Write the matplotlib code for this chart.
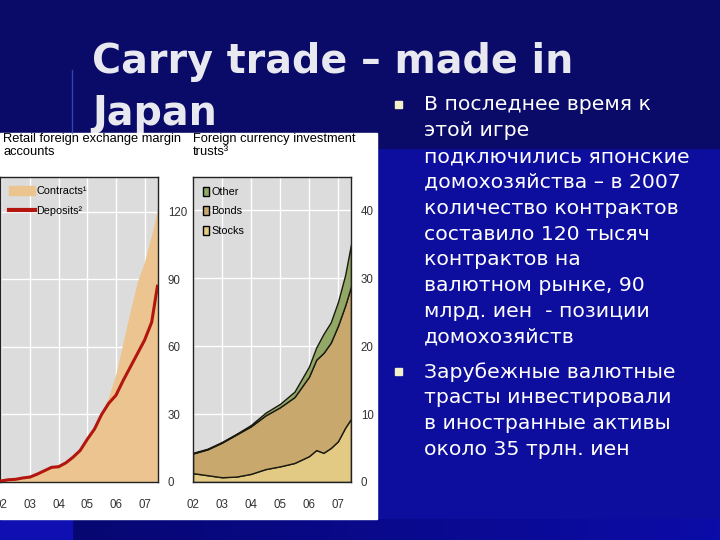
import numpy as np
import matplotlib.pyplot as plt
from matplotlib.colors import LinearSegmentedColormap
from matplotlib.patches import Rectangle, Patch
from matplotlib.lines import Line2D

# left chart: retail FX margin accounts (quarterly readings)
t_acc = [2002.0, 2002.25, 2002.5, 2002.75, 2003.0, 2003.25, 2003.5, 2003.75,
         2004.0, 2004.25, 2004.5, 2004.75, 2005.0, 2005.25, 2005.5, 2005.75,
         2006.0, 2006.25, 2006.5, 2006.75, 2007.0, 2007.25, 2007.45]
contracts = [0.8, 1.2, 1.6, 2.2, 2.8, 3.8, 5.2, 6.8, 7.8, 9.5, 12.0, 15.0, 20.0,
             25.0, 31.0, 38.0, 48.0, 62.0, 76.0, 89.0, 98.0, 110.0, 121.0]
deposits = [0.5, 1.0, 1.2, 1.8, 2.2, 3.5, 5.0, 6.5, 6.8, 8.5, 11.0, 14.0, 19.0,
            23.5, 30.0, 35.0, 38.5, 45.0, 51.0, 57.0, 63.0, 71.0, 87.0]

# right chart: foreign currency investment trusts
t_inv = [2002.0, 2002.5, 2003.0, 2003.5, 2004.0, 2004.5, 2005.0, 2005.5,
         2006.0, 2006.25, 2006.5, 2006.75, 2007.0, 2007.25, 2007.45]
stocks = [1.3, 1.0, 0.7, 0.8, 1.2, 1.9, 2.3, 2.8, 3.8, 4.7, 4.3, 5.0, 6.0, 8.0, 9.3]
bonds = [2.9, 3.8, 5.1, 6.2, 7.0, 7.9, 8.7, 9.7, 11.7, 13.3, 14.7, 15.5, 17.0, 18.0, 19.5]
other = [0.1, 0.1, 0.1, 0.1, 0.2, 0.4, 0.5, 0.8, 1.5, 1.8, 2.8, 3.0, 3.5, 4.5, 6.2]

years = [2002, 2003, 2004, 2005, 2006, 2007]
year_labels = ['02', '03', '04', '05', '06', '07']

title_lines = ['Carry trade \u2013 made in', 'Japan']
bullet1 = ['В последнее время к', 'этой игре', 'подключились японские',
           'домохозяйства \u2013 в 2007', 'количество контрактов',
           'составило 120 тысяч', 'контрактов на', 'валютном рынке, 90',
           'млрд. иен  - позиции', 'домохозяйств']
bullet2 = ['Зарубежные валютные', 'трасты инвестировали',
           'в иностранные активы', 'около 35 трлн. иен']

small = ['Liberation Sans', 'DejaVu Sans']

fig = plt.figure(figsize=(7.2, 5.4), dpi=100)
fig.patch.set_facecolor('#0d0d9e')

# slide background
bg = fig.add_axes([0, 0, 1, 1])
bg.set_xlim(0, 720)
bg.set_ylim(540, 0)
bg.axis('off')
bg.add_patch(Rectangle((0, 0), 720, 148, color='#0a0a68', zorder=0))
grad = np.linspace(0, 1, 200)[None, :]
bg.imshow(grad, extent=(72, 720, 540, 519), aspect='auto', zorder=0,
          cmap=LinearSegmentedColormap.from_list('g', ['#070772', '#0c0ca8']))
bg.add_patch(Rectangle((0, 519), 72, 21, color='#1010b2', zorder=0))
bg.plot([72, 72], [70, 133], color='#4060d0', lw=1, alpha=0.7)
bg.add_patch(Rectangle((0, 133), 377, 386, color='white', zorder=1))

# title sits under the pasted chart panel
for i, line in enumerate(title_lines):
    bg.text(92, 73 + i * 52, line, color='#e8e8f0', fontsize=28.5,
            fontweight='bold', va='baseline', ha='left', zorder=0.5)

for y0, lines in [(105, bullet1), (372, bullet2)]:
    bg.add_patch(Rectangle((395, y0 - 4), 7, 7, color='#f2f2c8', zorder=2))
    for i, line in enumerate(lines):
        bg.text(424, y0 + i * 25.8, line, color='white', fontsize=14.7,
                va='center', ha='left', zorder=2)

bg.text(3, 133, 'Retail foreign exchange margin\naccounts', fontsize=9.3,
        family=small, va='top', ha='left', linespacing=1.12, zorder=2)
bg.text(193, 133, 'Foreign currency investment\ntrusts\u00b3', fontsize=9.3,
        family=small, va='top', ha='left', linespacing=1.12, zorder=2)

# left chart
ax1 = fig.add_axes([0 / 720, 1 - 482 / 540, 158 / 720, 305 / 540])
ax1.set_facecolor('#dcdcdc')
ax1.fill_between(t_acc, contracts, color='#ebc48f', lw=0, zorder=2)
ax1.plot(t_acc, deposits, color='#b3160f', lw=2.2, zorder=3)
ax1.set_xlim(2001.95, 2007.47)
ax1.set_ylim(0, 135.5)
ax1.set_yticks([0, 30, 60, 90, 120])
ax1.legend(handles=[Patch(color='#ebc48f', label='Contracts\u00b9'),
                    Line2D([], [], color='#b3160f', lw=3, label='Deposits\u00b2')],
           loc='upper left', frameon=False, handlelength=2.4, handleheight=0.9,
           handletextpad=0.15, prop={'family': small, 'size': 7.8},
           borderaxespad=0.4, labelspacing=0.9)

# right chart
ax2 = fig.add_axes([193 / 720, 1 - 482 / 540, 158 / 720, 305 / 540])
ax2.set_facecolor('#dcdcdc')
ax2.stackplot(t_inv, stocks, bonds, other,
              colors=['#e2ca85', '#c9a86d', '#93a866'],
              edgecolor='#1a1a10', linewidth=1.0, zorder=2)
ax2.set_xlim(2002.0, 2007.45)
ax2.set_ylim(0, 44.9)
ax2.set_yticks([0, 10, 20, 30, 40])
ax2.legend(handles=[Patch(facecolor='#93a866', edgecolor='black', label='Other'),
                    Patch(facecolor='#c9a86d', edgecolor='black', label='Bonds'),
                    Patch(facecolor='#e2ca85', edgecolor='black', label='Stocks')],
           loc='upper left', frameon=False, handlelength=0.6, handleheight=0.9,
           handletextpad=0.2, prop={'family': small, 'size': 7.8},
           borderaxespad=0.5, labelspacing=0.85)

for ax in (ax1, ax2):
    ax.set_xticks(years)
    ax.set_xticklabels(year_labels)
    ax.yaxis.tick_right()
    ax.tick_params(length=0, labelsize=8.3, colors='#333333', pad=7)
    ax.tick_params(axis='x', pad=12)
    for lab in ax.get_xticklabels() + ax.get_yticklabels():
        lab.set_family(small)
    ax.grid(True, color='white', lw=1, zorder=1)
    ax.set_axisbelow(True)
    for s in ax.spines.values():
        s.set_color('#222222')
        s.set_linewidth(1)

fig.savefig('out.png', dpi=100, facecolor=fig.get_facecolor())
